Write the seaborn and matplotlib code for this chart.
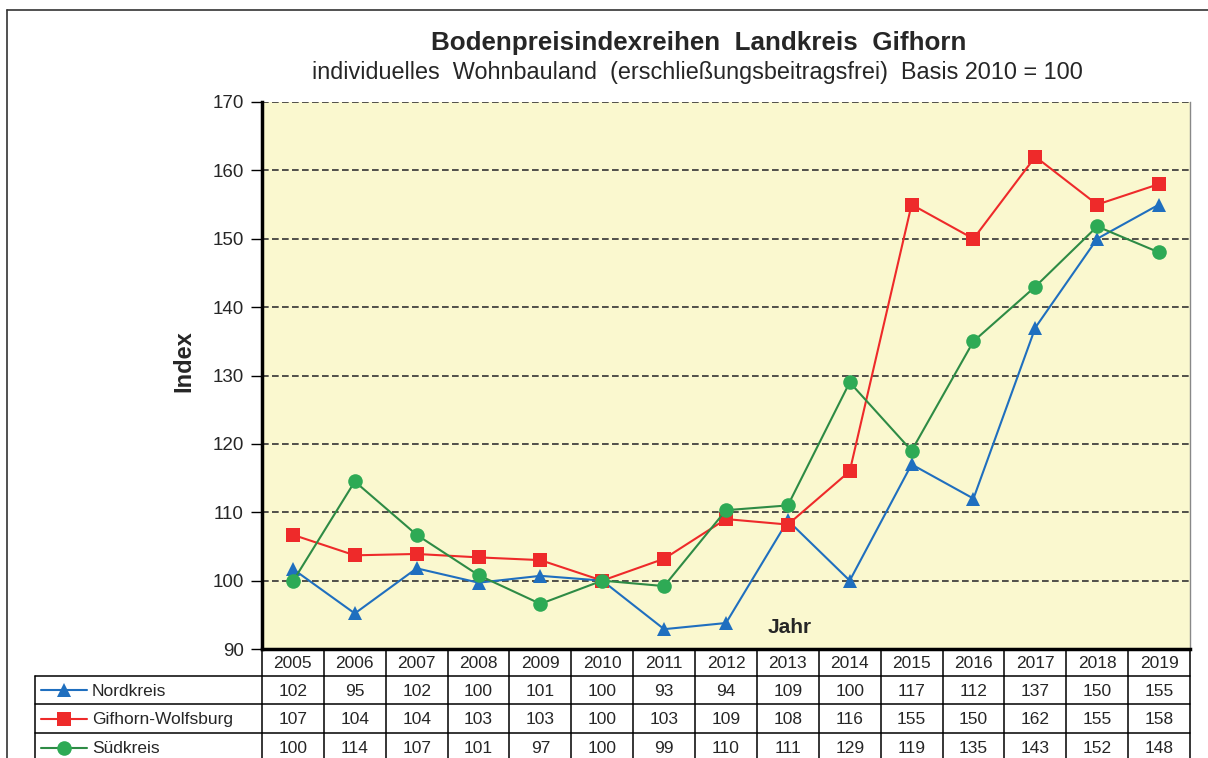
import numpy as np
import pandas as pd
import matplotlib
matplotlib.use("Agg")
import matplotlib.pyplot as plt
import seaborn as sns

# Daten
jahre = ["2005", "2006", "2007", "2008", "2009", "2010", "2011", "2012",
         "2013", "2014", "2015", "2016", "2017", "2018", "2019"]

# Werte wie in der Grafik eingezeichnet
nordkreis = [101.7, 95.2, 101.8, 99.7, 100.7, 100.0, 92.9, 93.8, 108.8, 100.0, 117.0, 112.0, 137.0, 150.0, 155.0]
gifhorn_wob = [106.7, 103.7, 103.9, 103.4, 103.0, 100.0, 103.2, 109.0, 108.2, 116.0, 155.0, 150.0, 162.0, 155.0, 158.0]
suedkreis = [99.9, 114.5, 106.7, 100.8, 96.6, 100.0, 99.2, 110.3, 111.0, 129.0, 119.0, 135.0, 143.0, 151.8, 148.0]

# gerundete Werte fuer die Tabelle
tab_nord = [102, 95, 102, 100, 101, 100, 93, 94, 109, 100, 117, 112, 137, 150, 155]
tab_gif = [107, 104, 104, 103, 103, 100, 103, 109, 108, 116, 155, 150, 162, 155, 158]
tab_sued = [100, 114, 107, 101, 97, 100, 99, 110, 111, 129, 119, 135, 143, 152, 148]

reihen = ["Nordkreis", "Gifhorn-Wolfsburg", "Südkreis"]
werte = [nordkreis, gifhorn_wob, suedkreis]
tabellen = [tab_nord, tab_gif, tab_sued]
marker = ["^", "s", "o"]
linienfarbe = ["#1f6fbf", "#ee2a2a", "#2e8b45"]
markerfarbe = ["#1f6fbf", "#ee2a2a", "#2eaa55"]

df = pd.DataFrame({
    "pos": np.tile(np.arange(len(jahre)), len(reihen)),
    "wert": np.concatenate(werte),
    "reihe": np.repeat(reihen, len(jahre)),
})

sns.set_theme(style="white")
plt.rcParams["font.family"] = ["Liberation Sans", "DejaVu Sans"]

W, H = 1208, 758
fig = plt.figure(figsize=(W / 100, H / 100), dpi=100)

# Achse in Pixel-Layout
ax_l, ax_r, ax_t, ax_b = 262, 1190, 102, 649
ax = fig.add_axes([ax_l / W, (H - ax_b) / H, (ax_r - ax_l) / W, (ax_b - ax_t) / H])
ax.set_facecolor("#faf8cf")

for name, m, lc, mc in zip(reihen, marker, linienfarbe, markerfarbe):
    sub = df[df["reihe"] == name]
    sns.lineplot(data=sub, x="pos", y="wert", ax=ax, color=lc, linewidth=1.5,
                 marker=m, markersize=10.5, markerfacecolor=mc, markeredgecolor=mc,
                 markeredgewidth=0, legend=False, zorder=5)

ax.set_xlim(-0.5, len(jahre) - 0.5)
ax.set_ylim(90, 170)
ax.set_yticks(np.arange(90, 171, 10))
ax.set_xticks([])
ax.set_xlabel("")
ax.set_ylabel("Index", fontsize=17, fontweight="bold")
ax.yaxis.set_label_coords(-0.072, 0.527)
ax.tick_params(axis="y", direction="out", length=8, width=1, color="black",
               labelsize=13.5, left=True, pad=5)
for y in range(100, 171, 10):
    ax.axhline(y, color="#333333", linewidth=1.2, linestyle=(0, (4, 2)), zorder=1)

ax.spines["left"].set_linewidth(2.5)
ax.spines["left"].set_color("black")
ax.spines["bottom"].set_linewidth(2.5)
ax.spines["bottom"].set_color("black")
ax.spines["top"].set_visible(False)
ax.spines["right"].set_color("#888888")
ax.spines["right"].set_linewidth(1)

ax.text(0.569, 0.04, "Jahr", transform=ax.transAxes, fontsize=15,
        fontweight="bold", ha="center", va="center")

# Titel
fig.text(699 / W, 1 - 43 / H, "Bodenpreisindexreihen  Landkreis  Gifhorn",
         fontsize=18.7, fontweight="bold", ha="center", va="center")
fig.text(697 / W, 1 - 72 / H,
         "individuelles  Wohnbauland  (erschließungsbeitragsfrei)  Basis 2010 = 100",
         fontsize=16.8, ha="center", va="center")

# Datentabelle
tax = fig.add_axes([0, 0, 1, 1], zorder=10)
tax.set_xlim(0, W)
tax.set_ylim(H, 0)
tax.axis("off")

lw = 1.1
spalte = (ax_r - ax_l) / len(jahre)
zeilen = [649, 676, 704, 733, 762]
leg_l = 35

for i in range(len(jahre) + 1):
    x = ax_l + i * spalte
    tax.plot([x, x], [zeilen[0], zeilen[-1]], color="black", linewidth=lw)
tax.plot([leg_l, leg_l], [zeilen[1], zeilen[-1]], color="black", linewidth=lw)
for y in zeilen[1:4]:
    tax.plot([leg_l, ax_r], [y, y], color="black", linewidth=lw)

for i, j in enumerate(jahre):
    tax.text(ax_l + (i + 0.5) * spalte, (zeilen[0] + zeilen[1]) / 2 + 1, j,
             fontsize=12.5, ha="center", va="center")

for r, (name, tab, m, lc, mc) in enumerate(zip(reihen, tabellen, marker, linienfarbe, markerfarbe)):
    yc = (zeilen[r + 1] + zeilen[r + 2]) / 2 + 1
    tax.plot([41, 87], [yc - 1, yc - 1], color=lc, linewidth=1.5)
    tax.plot([64], [yc - 1], marker=m, markersize=10.5, color=mc, markeredgewidth=0)
    tax.text(92, yc, name, fontsize=12.5, ha="left", va="center")
    for i, v in enumerate(tab):
        tax.text(ax_l + (i + 0.5) * spalte, yc, str(v), fontsize=12.5,
                 ha="center", va="center")

# Rahmen
tax.plot([7, W], [10, 10], color="#333333", linewidth=1.2)
tax.plot([7, 7], [10, H], color="#333333", linewidth=1.2)

fig.savefig("out.png", dpi=100)
